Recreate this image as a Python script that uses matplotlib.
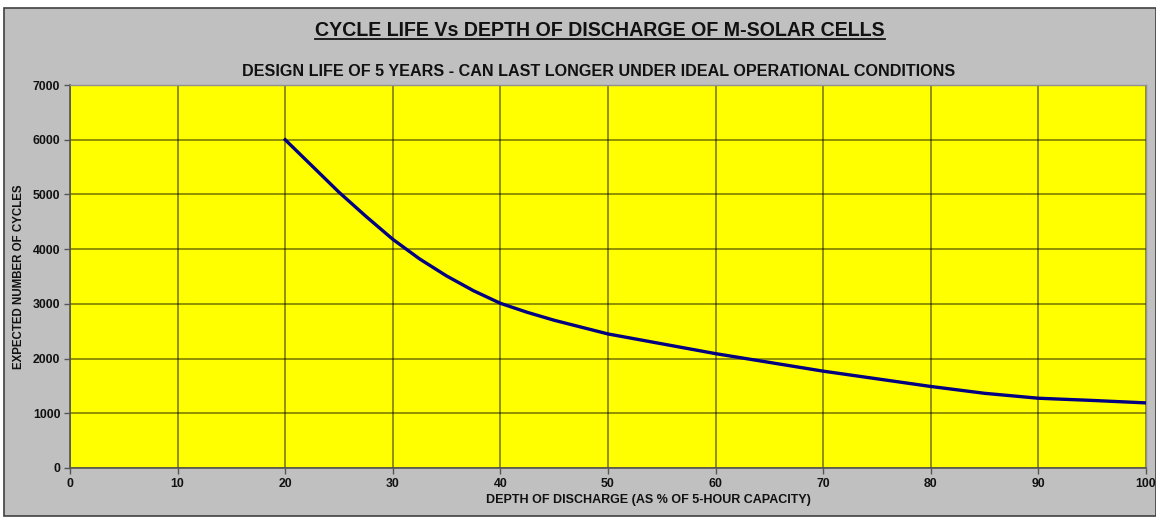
import matplotlib
matplotlib.use("Agg")
import matplotlib.pyplot as plt
from matplotlib.patches import Rectangle
from matplotlib.lines import Line2D

depth_of_discharge = [20, 22.5, 25, 27.5, 30, 32.5, 35, 37.5, 40, 42.5, 45, 50, 55, 60,
                      65, 70, 75, 80, 85, 90, 95, 100]
expected_cycles = [6000, 5520, 5040, 4600, 4180, 3820, 3510, 3240, 3010, 2845, 2700, 2450,
                   2270, 2090, 1930, 1770, 1630, 1490, 1365, 1275, 1235, 1190]
x_ticks = [0, 10, 20, 30, 40, 50, 60, 70, 80, 90, 100]
y_ticks = [0, 1000, 2000, 3000, 4000, 5000, 6000, 7000]

title = "CYCLE LIFE Vs DEPTH OF DISCHARGE OF M-SOLAR CELLS"
subtitle = "DESIGN LIFE OF 5 YEARS - CAN LAST LONGER UNDER IDEAL OPERATIONAL CONDITIONS"
xlabel = "DEPTH OF DISCHARGE (AS % OF 5-HOUR CAPACITY)"
ylabel = "EXPECTED NUMBER OF CYCLES"

plt.rcParams['font.family'] = ['Liberation Sans', 'DejaVu Sans']

W, H = 1156, 518
fig = plt.figure(figsize=(W / 100, H / 100), dpi=100, facecolor='white')

# gray chart panel
panel = Rectangle((4 / W, 2 / H), 1 - 4 / W, 1 - 10 / H, transform=fig.transFigure,
                  facecolor='#c0c0c0', edgecolor='#404040', linewidth=1.2, zorder=-10)
fig.patches.append(panel)

ax = fig.add_axes([70 / W, 1 - 468 / H, (1146 - 70) / W, (468 - 85) / H])
ax.set_facecolor('#ffff00')
ax.plot(depth_of_discharge, expected_cycles, color='#000080', linewidth=2.4, zorder=3,
        solid_joinstyle='round')

ax.set_xlim(0, 100)
ax.set_ylim(0, 7000)
ax.set_xticks(x_ticks)
ax.set_yticks(y_ticks)
ax.set_xticklabels([str(v) for v in x_ticks], fontsize=8.8, fontweight='bold', color='#111111')
ax.set_yticklabels([str(v) for v in y_ticks], fontsize=8.8, fontweight='bold', color='#111111')
ax.tick_params(axis='both', direction='out', length=4, width=1, color='#555555', pad=3)
ax.grid(True, color='black', alpha=0.55, linewidth=1.1)
ax.set_axisbelow(True)
for s in ['left', 'bottom']:
    ax.spines[s].set_color('#555555')
    ax.spines[s].set_linewidth(1.2)
for s in ['top', 'right']:
    ax.spines[s].set_color('#909090')
    ax.spines[s].set_linewidth(1.0)

ax.set_xlabel(xlabel, fontsize=9, fontweight='bold', color='#111111')
ax.set_ylabel(ylabel, fontsize=8.3, fontweight='bold', color='#111111')
ax.xaxis.set_label_coords((648 - 70) / 1076, -(500 - 468) / 383)
ax.yaxis.set_label_coords(-(70 - 19) / 1076, 0.5)
ax.xaxis.label.set_va('center')
ax.yaxis.label.set_va('center')

t = fig.text(600 / W, 1 - 30 / H, title, ha='center', va='center', fontsize=14.1,
             fontweight='bold', color='#111111')
fig.text(599 / W, 1 - 71 / H, subtitle, ha='center', va='center', fontsize=11.6,
         fontweight='bold', color='#111111')

# underline title
fig.canvas.draw()
bb = t.get_window_extent(renderer=fig.canvas.get_renderer())
inv = fig.transFigure.inverted()
(x0, y0), (x1, y1) = inv.transform([(bb.x0, bb.y0), (bb.x1, bb.y1)])
fig.lines.append(Line2D([x0, x1], [y0 + 1 / H, y0 + 1 / H], transform=fig.transFigure,
                        color='#111111', linewidth=1.3))

fig.savefig('out.png', dpi=100, facecolor='white')
